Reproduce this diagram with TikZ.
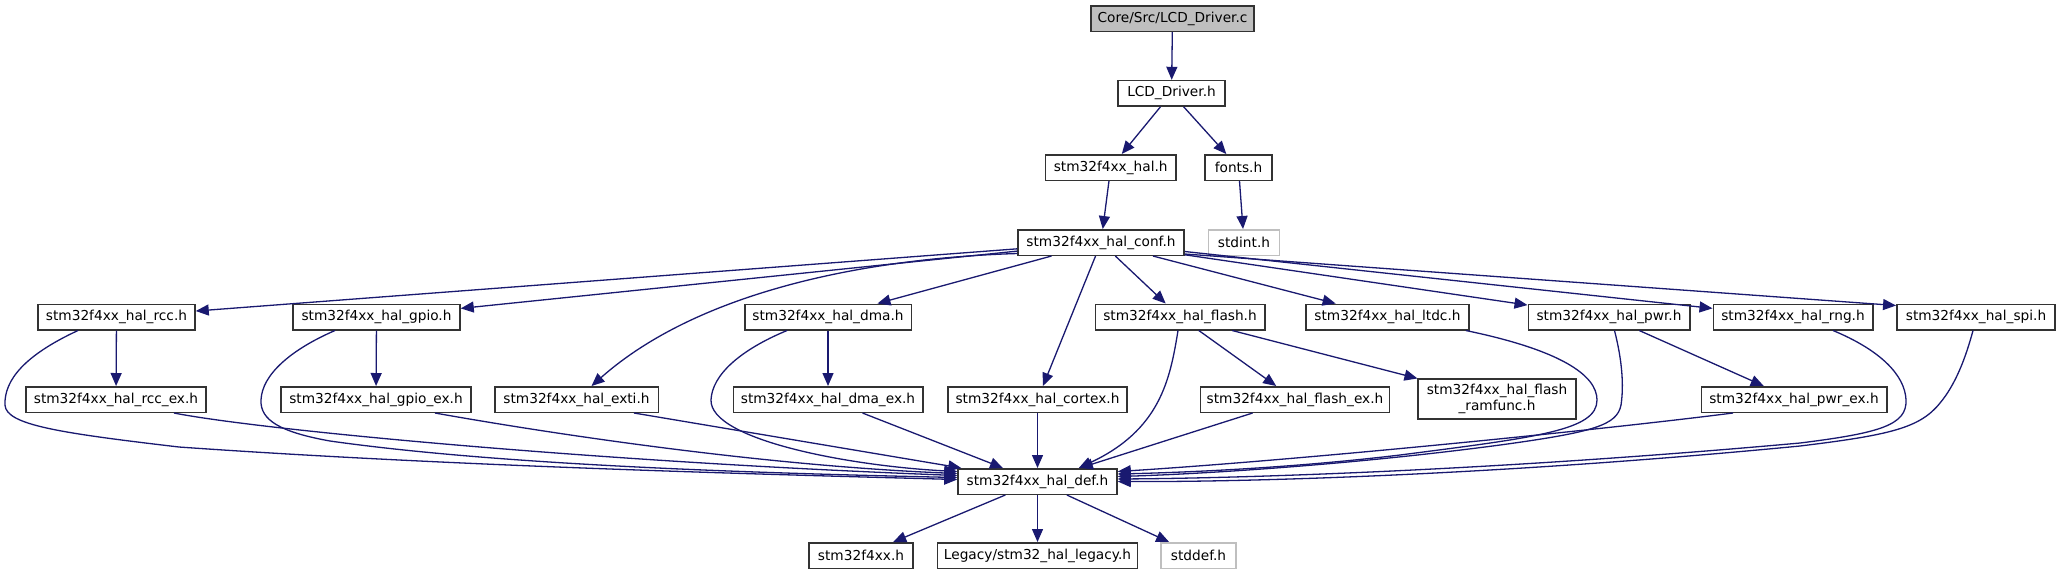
\documentclass[tikz,border=0pt]{standalone}
\usepackage{fontspec}
\setmainfont{DejaVu Sans}
\usetikzlibrary{arrows.meta,calc}
\definecolor{edgecol}{HTML}{191970}
\definecolor{boxline}{HTML}{333333}
\definecolor{greyline}{HTML}{BFBFBF}
\definecolor{rootfill}{HTML}{BFBFBF}
\begin{document}
\begin{tikzpicture}[x=0.5pt,y=-0.5pt,
  box/.style={draw=boxline,line width=0.75pt,fill=white,rectangle,inner xsep=3pt,inner ysep=0pt,minimum height=12.75pt,font=\fontsize{6.85pt}{8pt}\selectfont,text=black},
  ext/.style={box,draw=greyline},
  root/.style={box,fill=rootfill},
  wd/.style={minimum width=#1*0.5pt},
  dep/.style={draw=edgecol,line width=0.65pt,-{Triangle[length=6.5pt,width=5.5pt]}}]
\useasboundingbox (0,0) rectangle (2059,575);
\fill[white] (0,0) rectangle (2059,575);
% nodes
\node[root,wd=163] (lcdc) at (1172.5,18.5) {Core/Src/LCD\_Driver.c};
\node[box,wd=107] (lcdh) at (1171.5,93.3) {LCD\_Driver.h};
\node[box,wd=130.5] (hal) at (1110.7,167.5) {stm32f4xx\_hal.h};
\node[box,wd=67] (fonts) at (1238.5,167.5) {fonts.h};
\node[box,wd=166] (conf) at (1101,242.5) {stm32f4xx\_hal\_conf.h};
\node[ext,wd=71] (stdint) at (1244,242.5) {stdint.h};
\node[box,wd=157] (rcc) at (116.5,317) {stm32f4xx\_hal\_rcc.h};
\node[box,wd=167] (gpio) at (376.5,317) {stm32f4xx\_hal\_gpio.h};
\node[box,wd=166.5] (dma) at (828,317) {stm32f4xx\_hal\_dma.h};
\node[box,wd=169.5] (flash) at (1180,317) {stm32f4xx\_hal\_flash.h};
\node[box,wd=163] (ltdc) at (1387.5,317) {stm32f4xx\_hal\_ltdc.h};
\node[box,wd=161.5] (pwr) at (1609,317) {stm32f4xx\_hal\_pwr.h};
\node[box,wd=159.5] (rng) at (1793,317) {stm32f4xx\_hal\_rng.h};
\node[box,wd=158.4] (spi) at (1976,317) {stm32f4xx\_hal\_spi.h};
\node[box,wd=180] (rccex) at (116,399.5) {stm32f4xx\_hal\_rcc\_ex.h};
\node[box,wd=190] (gpioex) at (376,399.5) {stm32f4xx\_hal\_gpio\_ex.h};
\node[box,wd=163.5] (exti) at (576.5,399.5) {stm32f4xx\_hal\_exti.h};
\node[box,wd=189.5] (dmaex) at (828,399.5) {stm32f4xx\_hal\_dma\_ex.h};
\node[box,wd=179] (cortex) at (1037.5,399.5) {stm32f4xx\_hal\_cortex.h};
\node[box,wd=185.5] (flashex) at (1295,399.5) {stm32f4xx\_hal\_flash\_ex.h};
\node[box,wd=157.6,minimum height=20pt,align=center] (ramfunc) at (1497,399) {stm32f4xx\_hal\_flash\\\_ramfunc.h};
\node[box,wd=185.5] (pwrex) at (1794,399.5) {stm32f4xx\_hal\_pwr\_ex.h};
\node[box,wd=159] (def) at (1037.5,481.5) {stm32f4xx\_hal\_def.h};
\node[box,wd=104] (f4xx) at (861,555.5) {stm32f4xx.h};
\node[box,wd=200] (legacy) at (1037.5,555.5) {Legacy/stm32\_hal\_legacy.h};
\node[ext,wd=75] (stddef) at (1198.5,555.5) {stddef.h};
% edges
\draw[dep] (lcdc) -- (lcdh);
\draw[dep] (lcdh) -- (hal);
\draw[dep] (lcdh) -- (fonts);
\draw[dep] (hal) -- (conf);
\draw[dep] (fonts) -- (stdint);
\draw[dep] (conf) -- (rcc);
\draw[dep] (conf) -- (gpio);
\draw[dep] ($(conf.west)+(0,11)$) .. controls (870,258) and (700,290) .. ($(exti.north)+(15,0)$);
\draw[dep] (conf) -- (dma);
\draw[dep] (conf) -- (cortex);
\draw[dep] (conf) -- (flash);
\draw[dep] (conf) -- (ltdc);
\draw[dep] (conf) -- (pwr);
\draw[dep] (conf) -- (rng);
\draw[dep] ($(conf.south east)+(0,-2)$) -- ($(spi.north west)+(0,2)$);
\draw[dep] (rcc) -- (rccex);
\draw[dep] (gpio) -- (gpioex);
\draw[dep] (dma) -- (dmaex);
\draw[dep] (flash) -- (flashex);
\draw[dep] (flash) -- (ramfunc);
\draw[dep] (pwr) -- (pwrex);
% into def, left side
\draw[dep] ($(rcc.south)+(-38.5,0)$) .. controls (25,355) and (4,380) .. (5,405) .. controls (6,425) and (60,433) .. (179,447) .. controls (450,466) and (750,474) .. ($(def.west)+(0,-2)$);
\draw[dep] ($(gpio.south)+(-41.5,0)$) .. controls (290,350) and (262,375) .. (261,400) .. controls (260,420) and (280,432) .. (330,441) .. controls (500,465) and (750,473) .. ($(def.west)+(0,-4)$);
\draw[dep] ($(rccex.south)+(58,0)$) .. controls (260,430) and (600,462) .. ($(def.west)+(0,-6)$);
\draw[dep] ($(gpioex.south)+(59,0)$) .. controls (530,430) and (750,465) .. ($(def.west)+(0,-8)$);
\draw[dep] ($(exti.south)+(57.5,0)$) -- ($(def.north west)+(4,0)$);
\draw[dep] ($(dma.south)+(-41,0)$) .. controls (740,350) and (712,375) .. (711,400) .. controls (710,440) and (850,466) .. ($(def.west)+(0,-10)$);
\draw[dep] (dmaex) -- (def);
\draw[dep] (cortex) -- (def);
\draw[dep] ($(flash.south)+(-2,0)$) .. controls (1170,380) and (1160,430) .. ($(def.north east)+(-39,0)$);
\draw[dep] (flashex) -- (def);
% into def, right side
\draw[dep] ($(ltdc.south east)+(-4,0)$) .. controls (1560,350) and (1597,375) .. (1597,400) .. controls (1597,430) and (1540,437) .. (1400,455) .. controls (1300,467) and (1200,472) .. ($(def.east)+(0,-7.5)$);
\draw[dep] ($(pwr.south)+(5.5,0)$) .. controls (1622,360) and (1624,385) .. (1621,405) .. controls (1617,425) and (1595,432) .. (1500,445) .. controls (1350,465) and (1200,474) .. ($(def.east)+(0,-5)$);
\draw[dep] ($(pwrex.south)+(-61,0)$) .. controls (1600,430) and (1300,460) .. ($(def.east)+(0,-10)$);
\draw[dep] ($(rng.south)+(40,0)$) .. controls (1880,350) and (1905,375) .. (1906,400) .. controls (1907,425) and (1880,433) .. (1800,443) .. controls (1500,470) and (1250,478) .. ($(def.east)+(0,-2.5)$);
\draw[dep] ($(spi.south)+(-3,0)$) .. controls (1965,360) and (1955,385) .. (1940,403) .. controls (1920,428) and (1890,435) .. (1800,446) .. controls (1500,475) and (1250,482) .. (def.east);
% from def
\draw[dep] (def) -- (f4xx);
\draw[dep] (def) -- (legacy);
\draw[dep] (def) -- (stddef);
\end{tikzpicture}
\end{document}
